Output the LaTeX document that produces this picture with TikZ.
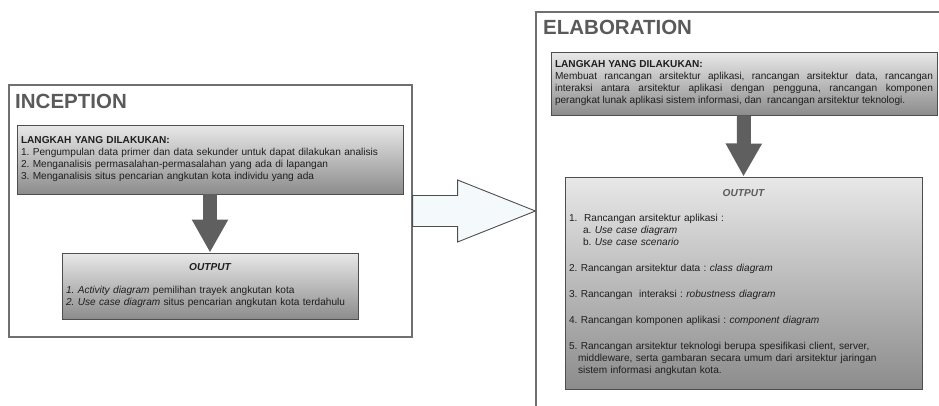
\documentclass[tikz,border=0pt]{standalone}
\usepackage{fontspec}
\setmainfont{Liberation Sans}
\usepackage{xcolor}
\definecolor{frame}{HTML}{707070}
\definecolor{edge}{HTML}{4E4E4E}
\definecolor{ink}{HTML}{1E1E1E}
\definecolor{headc}{HTML}{5A5A5A}
\definecolor{boxtop}{HTML}{E8E8E8}
\definecolor{boxbot}{HTML}{8C8C8C}
\definecolor{fat}{HTML}{5F5F5F}
\definecolor{pale}{HTML}{F4FAFC}
\usepackage{tikz}
\usetikzlibrary{arrows.meta,positioning,calc}
\tikzset{
  phase/.style={draw=frame,line width=1.1pt,fill=white,inner sep=0pt},
  ttl/.style={font=\fontsize{20.5}{24}\selectfont\bfseries\color{headc},inner sep=0pt,anchor=west},
  gbox/.style={draw=edge,line width=0.9pt,top color=boxtop,bottom color=boxbot,inner xsep=4pt,inner ysep=0pt,
    font=\fontsize{10.1}{12}\selectfont\frenchspacing\color{ink},align=left},
  fatarr/.style={draw=fat,line width=14pt,-{Triangle[length=33pt,width=34pt]}},
  bigarr/.style={draw=edge,line width=0.9pt,fill=pale,line join=miter},
}

\begin{document}
\begin{tikzpicture}[x=1pt,y=-1pt]
\useasboundingbox (0,0) rectangle (939,405);
\begin{scope}
\clip (0,0) rectangle (939,405);
% inception
\node[phase,minimum width=403pt,minimum height=252pt] (inc) at (210.5,211) {};
\node[ttl] (inct) at (15,101) {INCEPTION};
\node[gbox,minimum width=386pt,minimum height=69pt,text width=378pt] (incstep) at (210,159.5) {%
  \textbf{LANGKAH YANG DILAKUKAN:}\\
  1. Pengumpulan data primer dan data sekunder untuk dapat dilakukan analisis\\
  2. Menganalisis permasalahan-permasalahan yang ada di lapangan\\
  3. Menganalisis situs pencarian angkutan kota individu yang ada};
\node[gbox,minimum width=296pt,minimum height=66pt,text width=288pt] (incout) at (210,286) {%
  \makebox[\linewidth]{\bfseries\itshape OUTPUT}\\[11pt]
  \textit{1. Activity diagram} pemilihan trayek angkutan kota\\
  \textit{2. Use case diagram} situs pencarian angkutan kota terdahulu};
\draw[fatarr] (incstep.south) -- (incout.north);
% elaboration
\node[phase,minimum width=600pt,minimum height=500pt] (elab) at (836,262) {};
\node[ttl] (elabt) at (543,27) {ELABORATION};
\node[gbox,minimum width=386pt,minimum height=63pt,text width=378pt,align=justify] (elabstep) at (744,83.5) {%
  \parfillskip=0pt plus 8pt
  \textbf{LANGKAH YANG DILAKUKAN:}\\
  Membuat rancangan arsitektur aplikasi, rancangan arsitektur data, rancangan\linebreak
  interaksi antara arsitektur aplikasi dengan pengguna, rancangan komponen\linebreak
  perangkat lunak aplikasi sistem informasi, dan\ \ rancangan arsitektur teknologi.};
\node[gbox,minimum width=357pt,minimum height=212pt,text width=349pt] (elabout) at (743.5,283) {%
  \makebox[\linewidth]{\color{headc}\bfseries\itshape OUTPUT}\\[13pt]
  1.\ \ Rancangan arsitektur aplikasi :\\
  \hspace*{14pt}a. \textit{Use case diagram}\\
  \hspace*{14pt}b. \textit{Use case scenario}\\[14pt]
  2. Rancangan arsitektur data : \textit{class diagram}\\[14pt]
  3. Rancangan\ \ interaksi : \textit{robustness diagram}\\[14pt]
  4. Rancangan komponen aplikasi : \textit{component diagram}\\[14pt]
  5. Rancangan arsitektur teknologi berupa spesifikasi client, server,\\
  \hspace*{9pt}middleware, serta gambaran secara umum dari arsitektur jaringan\\
  \hspace*{9pt}sistem informasi angkutan kota.};
\draw[fatarr] (elabstep.south) -- (elabout.north);
% inception -> elaboration
\coordinate (tip) at (inc.east -| elab.west);
\draw[bigarr] ($(inc.east)+(0,-15.5)$) -- ($(inc.east)+(45,-15.5)$) -- ($(inc.east)+(45,-31)$) -- (tip)
  -- ($(inc.east)+(45,31)$) -- ($(inc.east)+(45,15.5)$) -- ($(inc.east)+(0,15.5)$) -- cycle;
\end{scope}
\end{tikzpicture}
\end{document}
